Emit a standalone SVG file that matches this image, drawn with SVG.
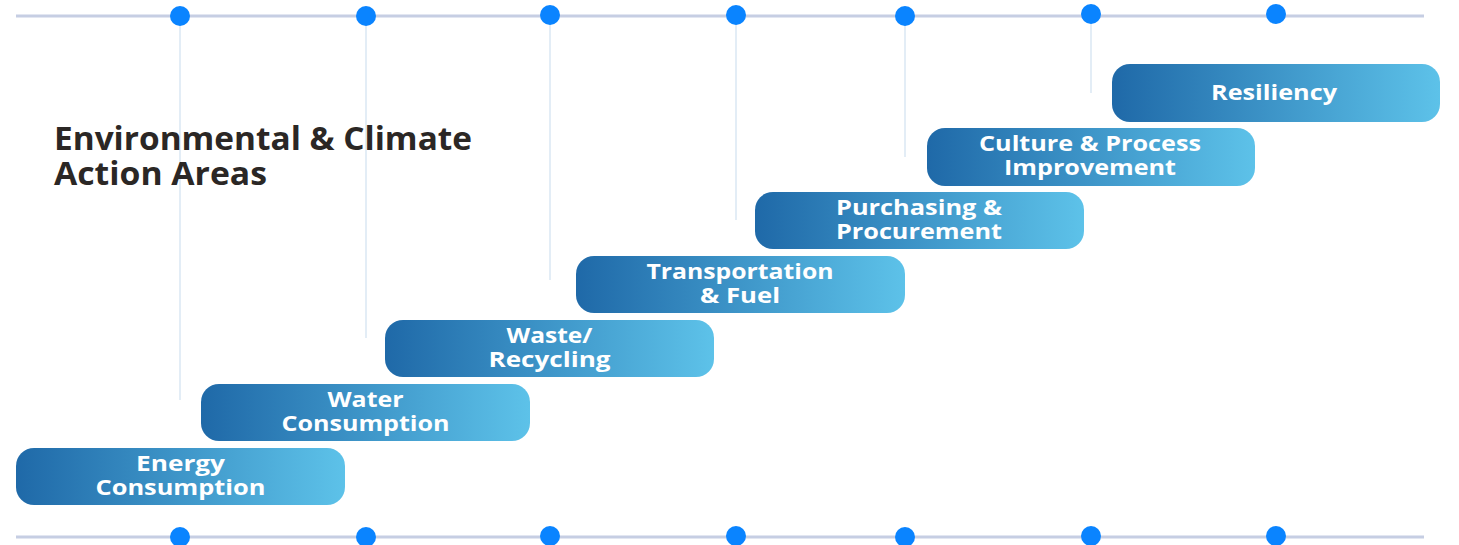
<svg xmlns="http://www.w3.org/2000/svg" width="1459" height="545" viewBox="0 0 1459 545">
<defs>
<linearGradient id="g" x1="0" y1="0" x2="1" y2="0">
<stop offset="0" stop-color="#1f69a8"/>
<stop offset="1" stop-color="#5dc2e9"/>
</linearGradient>
<style>
.rail{stroke:#c6cee3;stroke-width:3}
.dot{fill:#0a84ff}
.tick{stroke:#e3edf6;stroke-width:2}
.box{fill:url(#g)}
.lbl{font-family:"Open Sans","Liberation Sans",sans-serif;font-weight:700;font-size:22px;fill:#ffffff;text-anchor:middle}
.title{font-family:"Open Sans","Liberation Sans",sans-serif;font-weight:700;font-size:32px;fill:#2b2725}
</style>
</defs>
<rect width="1459" height="545" fill="#ffffff"/>
<g id="connectors">
<line class="rail" x1="16" y1="16" x2="1424" y2="16"/>
<line class="rail" x1="16" y1="537" x2="1424" y2="537"/>
<line class="tick" x1="180" y1="16" x2="180" y2="400"/>
<line class="tick" x1="366" y1="16" x2="366" y2="338"/>
<line class="tick" x1="550" y1="16" x2="550" y2="280"/>
<line class="tick" x1="736" y1="16" x2="736" y2="220"/>
<line class="tick" x1="905" y1="16" x2="905" y2="157"/>
<line class="tick" x1="1091" y1="16" x2="1091" y2="93"/>
</g>
<g id="dots">
<circle class="dot" cx="180" cy="16" r="10"/>
<circle class="dot" cx="366" cy="16" r="10"/>
<circle class="dot" cx="550" cy="15" r="10"/>
<circle class="dot" cx="736" cy="15" r="10"/>
<circle class="dot" cx="905" cy="16" r="10"/>
<circle class="dot" cx="1091" cy="14" r="10"/>
<circle class="dot" cx="1276" cy="14" r="10"/>
<circle class="dot" cx="180" cy="537" r="10"/>
<circle class="dot" cx="366" cy="537" r="10"/>
<circle class="dot" cx="550" cy="536" r="10"/>
<circle class="dot" cx="736" cy="536" r="10"/>
<circle class="dot" cx="905" cy="537" r="10"/>
<circle class="dot" cx="1091" cy="536" r="10"/>
<circle class="dot" cx="1276" cy="536" r="10"/>
</g>
<g id="title">
<text class="title" x="54" y="150" textLength="418" lengthAdjust="spacingAndGlyphs">Environmental &amp; Climate</text>
<text class="title" x="54" y="185" textLength="213" lengthAdjust="spacingAndGlyphs">Action Areas</text>
</g>
<g id="energy">
<rect class="box" x="16" y="448" width="329" height="57" rx="18"/>
<text class="lbl" x="180.5" y="471" textLength="89" lengthAdjust="spacingAndGlyphs">Energy</text>
<text class="lbl" x="180.5" y="495" textLength="170" lengthAdjust="spacingAndGlyphs">Consumption</text>
</g>
<g id="water">
<rect class="box" x="201" y="384" width="329" height="57" rx="18"/>
<text class="lbl" x="365.5" y="407" textLength="76" lengthAdjust="spacingAndGlyphs">Water</text>
<text class="lbl" x="365.5" y="431" textLength="168" lengthAdjust="spacingAndGlyphs">Consumption</text>
</g>
<g id="waste">
<rect class="box" x="385" y="320" width="329" height="57" rx="18"/>
<text class="lbl" x="549.5" y="343" textLength="86" lengthAdjust="spacingAndGlyphs">Waste/</text>
<text class="lbl" x="549.5" y="367" textLength="122" lengthAdjust="spacingAndGlyphs">Recycling</text>
</g>
<g id="transportation">
<rect class="box" x="576" y="256" width="329" height="57" rx="18"/>
<text class="lbl" x="740" y="279" textLength="187" lengthAdjust="spacingAndGlyphs">Transportation</text>
<text class="lbl" x="740" y="303" textLength="80" lengthAdjust="spacingAndGlyphs">&amp; Fuel</text>
</g>
<g id="purchasing">
<rect class="box" x="755" y="192" width="329" height="57" rx="18"/>
<text class="lbl" x="919" y="215" textLength="166" lengthAdjust="spacingAndGlyphs">Purchasing &amp;</text>
<text class="lbl" x="919" y="239" textLength="166" lengthAdjust="spacingAndGlyphs">Procurement</text>
</g>
<g id="culture">
<rect class="box" x="927" y="128" width="328" height="58" rx="18"/>
<text class="lbl" x="1090" y="151" textLength="222" lengthAdjust="spacingAndGlyphs">Culture &amp; Process</text>
<text class="lbl" x="1090" y="175" textLength="172" lengthAdjust="spacingAndGlyphs">Improvement</text>
</g>
<g id="resiliency">
<rect class="box" x="1112" y="64" width="328" height="58" rx="18"/>
<text class="lbl" x="1274" y="100" textLength="126" lengthAdjust="spacingAndGlyphs">Resiliency</text>
</g>
</svg>
